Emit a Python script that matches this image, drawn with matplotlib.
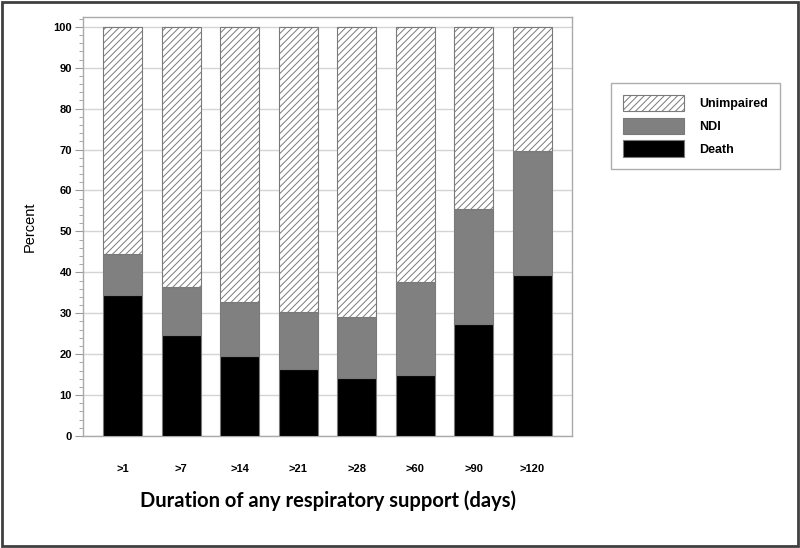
import numpy as np
import matplotlib
matplotlib.use("Agg")
import matplotlib.pyplot as plt
from matplotlib.patches import Rectangle, Patch
from matplotlib.ticker import MultipleLocator

# values (percent)
categories = [">1", ">7", ">14", ">21", ">28", ">60", ">90", ">120"]
death = [34.5, 24.7, 19.6, 16.3, 14.1, 14.9, 27.3, 39.4]
ndi_top = [44.5, 36.5, 32.7, 30.3, 29.1, 37.6, 55.5, 69.7]
ndi = [t - d for t, d in zip(ndi_top, death)]
unimpaired = [100 - t for t in ndi_top]

plt.rcParams['font.family'] = ['Liberation Sans', 'DejaVu Sans']
plt.rcParams['hatch.linewidth'] = 0.7

fig = plt.figure(figsize=(8, 5.48), dpi=100)
ax = fig.add_axes([83/800, 112/548, 489/800, 419/548])

x = np.arange(len(categories))
w = 0.665
edge = '#7a7a7a'
ax.bar(x, death, w, color='black', edgecolor=edge, linewidth=0.8, zorder=3, label='Death')
ax.bar(x, ndi, w, bottom=death, color='#808080', edgecolor=edge, linewidth=0.8, zorder=3, label='NDI')
ax.bar(x, unimpaired, w, bottom=ndi_top, color='white', edgecolor=edge, hatch='/////',
       linewidth=0.8, zorder=3, label='Unimpaired')

ax.set_xlim(-0.674, len(categories) - 1 + 0.674)
ax.set_ylim(0, 102.4)
ax.yaxis.set_major_locator(MultipleLocator(10))
ax.yaxis.set_minor_locator(MultipleLocator(2))
ax.grid(axis='y', color='#d4d4d4', linewidth=1, zorder=0)
ax.set_xticks(x)
ax.set_xticklabels(categories, fontweight='bold')
ax.tick_params(axis='x', length=0, pad=20, labelsize=8)
ax.tick_params(axis='y', which='major', length=6, width=0.8, color='#999999', pad=2, labelsize=8)
ax.tick_params(axis='y', which='minor', length=3, width=0.6, color='#999999')
for t in ax.get_yticklabels():
    t.set_fontweight('bold')
for s in ax.spines.values():
    s.set_color('#aaaaaa')
    s.set_linewidth(1)

ax.set_ylabel('Percent', fontsize=10.5, labelpad=12)
ax.set_xlabel('Duration of any respiratory support (days)', fontsize=14.5,
              family=['Lato', 'DejaVu Sans'], fontweight='bold', labelpad=12)

handles = [Patch(facecolor='white', edgecolor=edge, hatch='/////', linewidth=0.8),
           Patch(facecolor='#808080', edgecolor=edge, linewidth=0.8),
           Patch(facecolor='black', edgecolor=edge, linewidth=0.8)]
leg = fig.legend(handles, ['Unimpaired', 'NDI', 'Death'], loc='upper left',
                 bbox_to_anchor=(611/800, 1 - 83/548), frameon=True,
                 fancybox=False, edgecolor='#999999', handlelength=4.9, handleheight=1.65,
                 labelspacing=0.5, handletextpad=1.2, borderpad=0.95, borderaxespad=0,
                 prop={'weight': 'bold', 'size': 9})
leg.get_frame().set_linewidth(1)

# outer picture border
fig.patches.append(Rectangle((0.002, 0.003), 0.996, 0.994, transform=fig.transFigure,
                             fill=False, edgecolor='#404040', linewidth=2))

fig.savefig('out.png', dpi=100)
